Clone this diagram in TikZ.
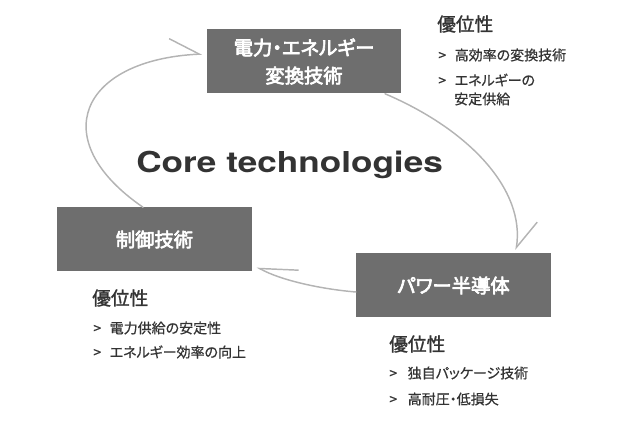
\documentclass[tikz,border=0pt]{standalone}
\usepackage{fontspec}
\usepackage{graphicx}
\setsansfont{TeX Gyre Heros}
\newfontfamily\jp[RawFeature=+palt, FakeBold=0.6]{Noto Sans CJK JP}
\newfontfamily\jpm[RawFeature=+palt, FakeBold=1.4]{Noto Sans CJK JP}
\newfontfamily\jpb[RawFeature=+palt, FakeBold=3.4]{Noto Sans CJK JP}
\usetikzlibrary{arrows.meta,calc}
\definecolor{boxfill}{HTML}{6E6E6E}
\definecolor{ink}{HTML}{333333}
\definecolor{cycgray}{HTML}{B4B4B4}
\tikzset{
  every picture/.style={line cap=round, line join=round},
  techbox/.style={fill=boxfill, draw=none, text=white, align=center,
    font=\jpb\fontsize{14.5pt}{21pt}\selectfont, minimum width=146pt,
    minimum height=48pt, inner sep=0pt},
  head/.style={anchor=west, inner sep=0pt, text=ink, font=\jpm\fontsize{14pt}{17pt}\selectfont},
  merit/.style={anchor=west, inner sep=0pt, text=ink, font=\jp\fontsize{10.5pt}{13pt}\selectfont},
  cyc/.style={draw=cycgray, line width=1.1pt},
}
\begin{document}
\begin{tikzpicture}[x=0.75pt, y=-0.75pt]
  \useasboundingbox (0,0) rectangle (641,423);
  % technology boxes
  \node[techbox] (conv) at (304,61.5) {電力・エネルギー\\ 変換技術};
  \node[techbox] (ctl) at (154.5,239.5) {制御技術};
  \node[techbox] (pwr) at (453.5,285.5) {パワー半導体};
  \node[anchor=base west, inner sep=0pt, text=ink, font=\sffamily\bfseries\fontsize{21.6pt}{24pt}\selectfont]
    (core) at (136,173) {\scalebox{1.22}[1]{Core technologies}};
  % cycle
  \coordinate (tipA) at (516,250);
  \coordinate (tipB) at (202,54);
  \coordinate (tipC) at (257,267);
  \draw[cyc, -{Straight Barb[left, length=21pt, angle'=62]}]
    ($(conv.south)+(81,0)$) .. controls (470,130) and (525,190) .. (tipA);
  \draw[cyc, -{Straight Barb[left, length=22pt, angle'=60]}]
    ($(ctl.north)+(-11.5,0)$) .. controls (45,140) and (80,60) .. (tipB);
  \draw[cyc, -{Straight Barb[right, length=26pt, angle'=54]}]
    ($(pwr.west)+(0,6.5)$) .. controls (320,289) and (280,280) .. (tipC);
  % merits
  \node[head] (hconv) at (437,24) {優位性};
  \node[merit] (mconv1) at (438,55) {>\hspace{6.5pt}高効率の変換技術};
  \node[merit] (mconv2) at (438,80) {>\hspace{6.5pt}エネルギーの};
  \node[merit] (mconv3) at (454,99) {安定供給};
  \node[head] (hctl) at (92,298) {優位性};
  \node[merit] (mctl1) at (93,328) {>\hspace{6.5pt}電力供給の安定性};
  \node[merit] (mctl2) at (93,352) {>\hspace{6.5pt}エネルギー効率の向上};
  \node[head] (hpwr) at (389,344) {優位性};
  \node[merit] (mpwr1) at (389,373) {>\hspace{8pt}独自パッケージ技術};
  \node[merit] (mpwr2) at (389,399) {>\hspace{8pt}高耐圧・低損失};
\end{tikzpicture}
\end{document}
